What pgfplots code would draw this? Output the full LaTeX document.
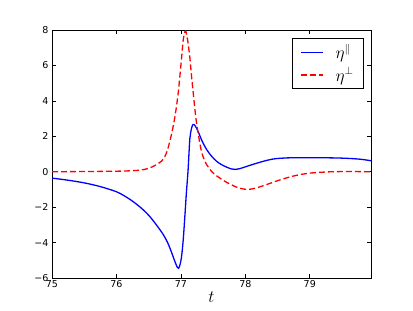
\documentclass[border=0pt]{standalone}
\usepackage{pgfplots}
\pgfplotsset{compat=1.18}
\usepackage{fontspec}
\setmainfont{DejaVu Sans}
\begin{document}
\begin{tikzpicture}
\begin{axis}[
  scale only axis,
  width=319pt, height=248pt,
  xmin=75, xmax=79.95, ymin=-6, ymax=8,
  xtick={75,76,77,78,79},
  ytick={-6,-4,-2,0,2,4,6,8},
  yticklabels={−6,−4,−2,0,2,4,6,8},
  /pgf/number format/assume math mode=true,
  tick label style={font=\fontsize{9.5}{11}\selectfont},
  xticklabel style={yshift=1pt},
  tick align=inside, tickpos=both, major tick length=4pt,
  axis line style={black, line width=0.8pt},
  major tick style={black, line width=0.6pt},
  xlabel={$t$}, xlabel style={font=\fontsize{16}{17}\selectfont, yshift=3pt},
  legend style={at={(0.978,0.968)}, anchor=north east, draw=black, line width=0.8pt,
    font=\fontsize{16}{18}\selectfont, inner xsep=8pt, inner ysep=4pt, row sep=3pt},
  legend cell align=left,
  legend image post style={line width=1.3pt},
  legend image code/.code={\draw[#1] (2pt,0pt) -- (24pt,0pt);},
  clip mode=individual,
]
\addplot[blue, line width=1.3pt, smooth, tension=0.5] coordinates {
(75.00,-0.36) (75.25,-0.48) (75.50,-0.63) (75.75,-0.84) (76.00,-1.13) (76.13,-1.38)
(76.26,-1.69) (76.40,-2.1) (76.52,-2.54) (76.63,-3.05) (76.73,-3.57) (76.80,-4.05)
(76.86,-4.6) (76.91,-5.1) (76.945,-5.4) (76.965,-5.45) (76.99,-5.2) (77.01,-4.8)
(77.035,-3.9) (77.06,-2.6) (77.085,-1.2) (77.11,0.0) (77.125,1.0) (77.14,1.9)
(77.165,2.45) (77.19,2.67) (77.22,2.6) (77.27,2.25) (77.33,1.72) (77.40,1.25)
(77.47,0.9) (77.55,0.6) (77.63,0.4) (77.71,0.26) (77.78,0.16) (77.84,0.13)
(77.92,0.18) (78.02,0.3) (78.15,0.45) (78.27,0.58) (78.38,0.68) (78.48,0.74)
(78.65,0.78) (78.84,0.79) (79.10,0.79) (79.36,0.78) (79.55,0.76) (79.70,0.73)
(79.82,0.69) (79.95,0.62)
};
\addlegendentry{\hspace{10pt}$\eta^{\parallel}$}
\addplot[red, line width=1.3pt, dash pattern=on 6pt off 3pt, smooth, tension=0.5] coordinates {
(75.00,0.0) (75.50,0.01) (76.00,0.03) (76.20,0.05) (76.37,0.09) (76.48,0.17)
(76.57,0.3) (76.63,0.42) (76.70,0.6) (76.75,0.85) (76.79,1.2) (76.82,1.6)
(76.86,2.2) (76.89,2.75) (76.92,3.4) (76.96,4.5) (77.01,6.4)
(77.035,7.4) (77.06,7.88) (77.08,7.9) (77.11,7.3) (77.14,6.4)
(77.165,5.4) (77.19,4.5) (77.215,3.6) (77.24,2.82) (77.28,1.9) (77.32,1.13)
(77.36,0.7) (77.40,0.4) (77.48,0.0) (77.55,-0.22) (77.63,-0.42) (77.71,-0.6)
(77.79,-0.75) (77.87,-0.88) (77.95,-0.96) (78.03,-1.0) (78.12,-0.96) (78.22,-0.86)
(78.35,-0.7) (78.48,-0.53) (78.61,-0.38) (78.74,-0.25) (78.87,-0.15) (79.00,-0.08)
(79.18,-0.03) (79.36,0.0) (79.60,0.01) (79.95,0.0)
};
\addlegendentry{\hspace{10pt}$\eta^{\perp}$}
\coordinate (A) at (rel axis cs:0,0);
\coordinate (B) at (rel axis cs:1,1);
\end{axis}
\useasboundingbox ([shift={(-52pt,-32pt)}]A) rectangle ([shift={(42pt,30pt)}]B);
\end{tikzpicture}
\end{document}
